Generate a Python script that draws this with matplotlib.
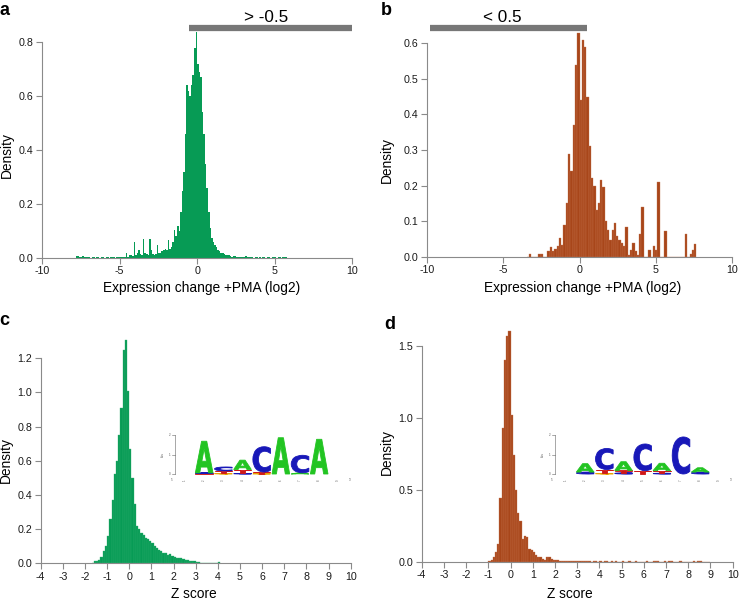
import numpy as np
import matplotlib
matplotlib.use("Agg")
import matplotlib.pyplot as plt
from matplotlib.textpath import TextPath
from matplotlib.patches import PathPatch
from matplotlib.font_manager import FontProperties
from matplotlib.transforms import Affine2D

plt.rcParams['font.family'] = ['Liberation Sans', 'DejaVu Sans']

# ---------------- data ----------------
# panel a: expression change (log2), green, bins of 0.1 from -8.0
a_start, a_width = -8.0, 0.1
a_density = [
    0, 0, 0.008, 0.008, 0.004, 0.002, 0.006, 0.002, 0.002, 0.002,
    0.002, 0, 0.002, 0.002, 0, 0.002, 0.002, 0, 0.002, 0.002,
    0, 0.002, 0.002, 0, 0.002, 0.002, 0.002, 0, 0.003, 0.002,
    0.003, 0.002, 0.004, 0.004, 0.018, 0.004, 0.010, 0.012, 0.008, 0.060,
    0.012, 0.020, 0.030, 0.015, 0.010, 0.070, 0.020, 0.015, 0.012, 0.070,
    0.030, 0.015, 0.012, 0.015, 0.050, 0.020, 0.020, 0.025, 0.030, 0.035,
    0.030, 0.068, 0.035, 0.040, 0.060, 0.105, 0.080, 0.120, 0.100, 0.170,
    0.250, 0.320, 0.460, 0.640, 0.620, 0.600, 0.640, 0.680, 0.780, 0.840,
    0.720, 0.690, 0.670, 0.540, 0.460, 0.350, 0.260, 0.170, 0.110, 0.075,
    0.060, 0.050, 0.040, 0.030, 0.025, 0.020, 0.018, 0.015, 0.010, 0.012,
    0.010, 0.008, 0.005, 0.008, 0.006, 0.004, 0.005, 0.004, 0.003, 0.003,
    0.004, 0.006, 0.002, 0.002, 0.002, 0.002, 0, 0.002, 0.002, 0,
    0.002, 0, 0.002, 0.002, 0, 0.002, 0.002, 0, 0.002, 0.002,
    0.002, 0, 0.002, 0.002, 0, 0.002, 0.002, 0.004, 0, 0,
]
# panel b: expression change (log2), brown, bins of 0.15 from -3.45
b_start, b_width = -3.45, 0.15
b_density = [
    0, 0.008, 0, 0, 0, 0.008, 0.008, 0, 0, 0.016,
    0.027, 0.016, 0.023, 0.030, 0.053, 0.033, 0.090, 0.150, 0.290, 0.240,
    0.370, 0.540, 0.630, 0.440, 0.610, 0.590, 0.450, 0.310, 0.220, 0.200,
    0.130, 0.150, 0.216, 0.197, 0.100, 0.075, 0.048, 0.075, 0.095, 0.057,
    0.048, 0.039, 0.030, 0.084, 0.005, 0.020, 0.038, 0.016, 0.005, 0.064,
    0.141, 0, 0, 0.018, 0, 0.030, 0.020, 0.210, 0, 0,
    0.071, 0, 0, 0, 0, 0, 0, 0, 0, 0.064,
    0, 0.008, 0.020, 0.036,
]
# panel c: Z score, green, bins of 0.1 from -1.7
c_start, c_width = -1.7, 0.1
c_density = [
    0, 0.015, 0.012, 0.02, 0.035, 0.07, 0.10, 0.16, 0.26, 0.37,
    0.52, 0.60, 0.75, 0.91, 1.25, 1.31, 1.01, 0.67, 0.50, 0.35,
    0.22, 0.20, 0.175, 0.165, 0.15, 0.14, 0.13, 0.12, 0.10, 0.09,
    0.08, 0.07, 0.06, 0.06, 0.05, 0.055, 0.045, 0.035, 0.03, 0.03,
    0.03, 0.025, 0.02, 0.02, 0.015, 0.014, 0.012, 0.01, 0.005, 0.0,
    0, 0, 0, 0, 0, 0, 0, 0.008,
]
# panel d: Z score, brown, bins of 0.1 from -1.0
d_start, d_width = -1.0, 0.1
d_density = [
    0.005, 0.012, 0.03, 0.07, 0.12, 0.44, 0.93, 1.40, 1.57, 1.60,
    1.02, 0.74, 0.50, 0.34, 0.28, 0.16, 0.18, 0.17, 0.09, 0.08,
    0.07, 0.045, 0.035, 0.03, 0.016, 0.012, 0.03, 0.03, 0.02, 0.015,
    0.012, 0.015, 0.008, 0.005, 0.003, 0.003, 0.004, 0.002, 0.002, 0.003,
    0.002, 0.002, 0.003, 0.002, 0.002, 0.002, 0.001, 0.002, 0.002, 0.001,
    0.002, 0.001, 0.002, 0.002, 0.001, 0.002, 0.001, 0.002, 0.001, 0.001,
    0.002, 0.001, 0.001, 0.002, 0.001, 0.001, 0.002, 0.001, 0.001, 0.001,
    0.001, 0.002, 0.001, 0.001, 0.002, 0.003, 0.002, 0.001, 0.001, 0.002,
    0.001, 0.002, 0.003, 0.001, 0.001, 0.001, 0.002, 0.001, 0.001, 0.001,
    0.001, 0.001, 0.002, 0.001, 0.002, 0.003, 0.001, 0.001, 0.001, 0.001,
]

xticks_ab = [-10, -5, 0, 5, 10]
xticks_cd = list(range(-4, 11))
yticks_a = [0.0, 0.2, 0.4, 0.6, 0.8]
yticks_b = [0.0, 0.1, 0.2, 0.3, 0.4, 0.5, 0.6]
yticks_c = [0.0, 0.2, 0.4, 0.6, 0.8, 1.0, 1.2]
yticks_d = [0.0, 0.5, 1.0, 1.5]

thresh_a = (-0.55, 10.0, "> -0.5")
thresh_b = (-9.8, 0.5, "< 0.5")

# sequence logos: per position, stacked (letter, bits) bottom to top
logo_c = [
    [],
    [('T', 0.03), ('C', 0.03), ('A', 1.62)],
    [('G', 0.03), ('T', 0.13), ('C', 0.20)],
    [('C', 0.03), ('T', 0.20), ('A', 0.48)],
    [('G', 0.02), ('T', 0.08), ('C', 1.30)],
    [('A', 1.86)],
    [('A', 0.06), ('C', 0.90)],
    [('A', 1.78)],
    [],
]
logo_d = [
    [],
    [('C', 0.10), ('A', 0.43)],
    [('G', 0.03), ('T', 0.20), ('C', 1.08)],
    [('C', 0.06), ('T', 0.12), ('A', 0.45)],
    [('T', 0.17), ('C', 1.37)],
    [('C', 0.04), ('T', 0.13), ('A', 0.38)],
    [('C', 1.90)],
    [('C', 0.10), ('A', 0.22)],
    [],
]
letter_colors = {'A': '#22c422', 'C': '#1818b8', 'T': '#d01818', 'G': '#e8a000'}

GREEN = '#079b55'
GREEN_EDGE = '#2fae70'
BROWN = '#a8461a'
BROWN_EDGE = '#c57550'
AXCOL = '#8a8a8a'

# ---------------- figure ----------------
W, H = 740, 602
fig = plt.figure(figsize=(W / 100, H / 100), dpi=100)


def px_axes(x0, x1, ybase, ytick_px, ytick_val, ytop_val):
    scale = (ybase - ytick_px) / ytick_val
    ytop = ybase - ytop_val * scale
    return fig.add_axes([x0 / W, (H - ybase) / H, (x1 - x0) / W, (ybase - ytop) / H])


def hist_panel(ax, start, width, dens, color, edge, lw, xlim, xticks, yticks, ytop):
    edges = start + width * np.arange(len(dens))
    ax.bar(edges, dens, width=width, align='edge', color=color,
           edgecolor=edge, linewidth=lw, zorder=2)
    ax.set_xlim(*xlim)
    ax.set_ylim(0, ytop)
    for s in ('top', 'right'):
        ax.spines[s].set_visible(False)
    ax.spines['left'].set_bounds(yticks[0], yticks[-1])
    ax.spines['bottom'].set_bounds(xlim[0], xlim[1])
    for s in ('left', 'bottom'):
        ax.spines[s].set_color(AXCOL)
        ax.spines[s].set_linewidth(0.8)
    ax.set_xticks(xticks)
    ax.set_xticklabels([str(t) for t in xticks])
    ax.set_yticks(yticks)
    ax.set_yticklabels(['%.1f' % t for t in yticks])
    ax.tick_params(direction='out', length=4, width=0.8, color=AXCOL,
                   labelsize=7.7, labelcolor='#1a1a1a', pad=2)
    ax.patch.set_alpha(0)


ax_a = px_axes(42, 352.3, 258, 42.3, 0.8, 0.9)
hist_panel(ax_a, a_start, a_width, a_density, GREEN, GREEN, 0,
           (-10, 10), xticks_ab, yticks_a, 0.9)
ax_b = px_axes(426.7, 732.3, 256.7, 43.3, 0.6, 0.7)
hist_panel(ax_b, b_start, b_width, b_density, BROWN, BROWN_EDGE, 0.25,
           (-10, 10), xticks_ab, yticks_b, 0.7)
ax_c = px_axes(40.7, 350.7, 563.3, 358.3, 1.2, 1.35)
hist_panel(ax_c, c_start, c_width, c_density, GREEN, GREEN_EDGE, 0.25,
           (-4, 10), xticks_cd, yticks_c, 1.35)
ax_d = px_axes(421.7, 732.7, 561.7, 345.7, 1.5, 1.65)
hist_panel(ax_d, d_start, d_width, d_density, BROWN, BROWN_EDGE, 0.25,
           (-4, 10), xticks_cd, yticks_d, 1.65)

# threshold bars
ax_a.plot([thresh_a[0], thresh_a[1]], [0.852, 0.852], color='#777777', lw=4.5,
          solid_capstyle='butt', clip_on=False)
ax_a.text((thresh_a[0] + thresh_a[1]) / 2 - 0.3, 0.874, thresh_a[2], ha='center',
          va='baseline', fontsize=12.3, clip_on=False)
ax_b.plot([thresh_b[0], thresh_b[1]], [0.642, 0.642], color='#777777', lw=4.5,
          solid_capstyle='butt', clip_on=False)
ax_b.text((thresh_b[0] + thresh_b[1]) / 2 - 0.4, 0.66, thresh_b[2], ha='center',
          va='baseline', fontsize=12.3, clip_on=False)


def ftext(x, y, s, **kw):
    fig.text(x / W, 1 - y / H, s, **kw)


# axis labels
ftext(201.7, 288, 'Expression change +PMA (log2)', ha='center', va='center', fontsize=9.9)
ftext(583, 288, 'Expression change +PMA (log2)', ha='center', va='center', fontsize=9.9)
ftext(194, 594, 'Z score', ha='center', va='center', fontsize=9.9)
ftext(570, 594, 'Z score', ha='center', va='center', fontsize=9.9)
ftext(7, 155, 'Density', ha='center', va='center', rotation=90, fontsize=9.9)
ftext(387, 160, 'Density', ha='center', va='center', rotation=90, fontsize=9.9)
ftext(6, 460, 'Density', ha='center', va='center', rotation=90, fontsize=9.9)
ftext(387, 452, 'Density', ha='center', va='center', rotation=90, fontsize=9.9)

# panel letters
ftext(-1, 15, 'a', ha='left', va='baseline', fontsize=13, fontweight='bold')
ftext(381, 15, 'b', ha='left', va='baseline', fontsize=13, fontweight='bold')
ftext(-1, 325, 'c', ha='left', va='baseline', fontsize=13, fontweight='bold')
ftext(384, 329, 'd', ha='left', va='baseline', fontsize=13, fontweight='bold')

# ---------------- sequence logos ----------------
LOGO_FP = FontProperties(family='DejaVu Sans', weight='bold')
LOGO_STEP = 19.17
LOGO_Y0 = 474.0
LOGO_BIT = 19.5


def draw_letter(ax, ch, xc, ybottom, width, height, color):
    tp = TextPath((0, 0), ch, size=1, prop=LOGO_FP)
    bb = tp.get_extents()
    t = (Affine2D().translate(-bb.x0, -bb.y0)
         .scale(width / bb.width, height / bb.height)
         .translate(xc - width / 2, ybottom))
    ax.add_patch(PathPatch(t.transform_path(tp), facecolor=color,
                           edgecolor=color, linewidth=0.6))


def draw_logo(x0, x1, ytop, ybot, pos1_px, axis_px, stacks):
    ax = fig.add_axes([x0 / W, (H - ybot) / H, (x1 - x0) / W, (ybot - ytop) / H])
    ax.set_xlim((x0 - pos1_px) / LOGO_STEP + 1, (x1 - pos1_px) / LOGO_STEP + 1)
    ax.set_ylim((LOGO_Y0 - ybot) / LOGO_BIT, (LOGO_Y0 - ytop) / LOGO_BIT)
    ax.axis('off')
    for i, stack in enumerate(stacks):
        y = 0.0
        for ch, h in stack:
            draw_letter(ax, ch, i + 1, y, 0.92, h, letter_colors[ch])
            y += h
    xa = (axis_px - pos1_px) / LOGO_STEP + 1
    ax.plot([xa, xa], [0, 2], color='#666666', lw=0.4)
    for t in (0, 1, 2):
        ax.plot([xa - 0.15, xa], [t, t], color='#666666', lw=0.4)
        ax.text(xa - 0.22, t, str(t), fontsize=2.2, ha='right', va='center',
                color='#555555')
    ax.text(xa - 0.65, 1, 'bits', fontsize=2.2, rotation=90, ha='center',
            va='center', color='#555555')
    for p in range(1, len(stacks) + 1):
        ax.text(p, -0.3, str(p), fontsize=2.0, rotation=90, ha='center',
                va='center', color='#555555')
    ax.text(xa - 0.15, -0.32, "5'", fontsize=2.2, ha='center', va='center',
            color='#555555')
    ax.text(len(stacks) + 0.6, -0.32, "3'", fontsize=2.2, ha='center',
            va='center', color='#555555')


draw_logo(160, 360, 425, 490, 185.0, 175.0, logo_c)
draw_logo(540, 740, 425, 490, 566.0, 555.0, logo_d)

fig.savefig('out.png', dpi=100)
